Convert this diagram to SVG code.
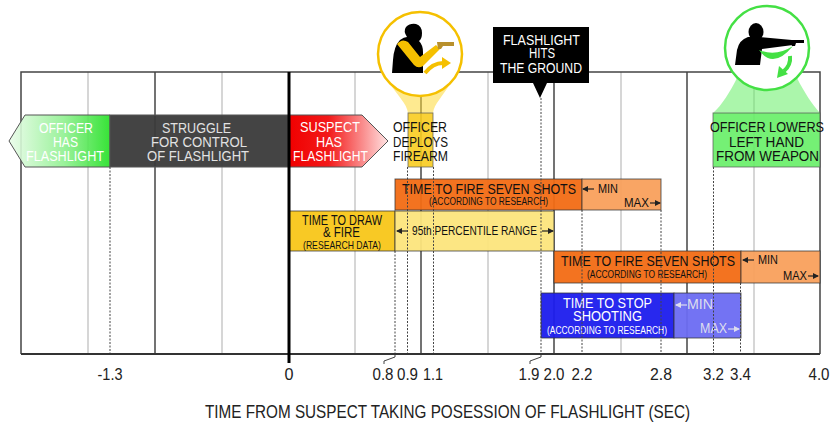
<svg xmlns="http://www.w3.org/2000/svg" width="832" height="425" viewBox="0 0 832 425">
<defs>
<style>
.t{font-family:"Liberation Sans",Arial,sans-serif;}
.lbl{font-size:15px;text-anchor:middle;}
.sm{font-size:10px;text-anchor:middle;}
.tick{font-size:17px;text-anchor:middle;fill:#222;}
.gl{stroke:#c8c8c8;stroke-width:1.5;}
.gd{stroke:#444;stroke-width:1.5;}
.dash{stroke:#444;stroke-width:1;stroke-dasharray:2 1.5;fill:none;}
.bar{stroke:#333;stroke-opacity:0.75;stroke-width:1;}
.arr{stroke:#222;stroke-width:1.2;}
.arrw{stroke:#dde;stroke-width:1.2;}
</style>
<marker id="ah" markerUnits="userSpaceOnUse" markerWidth="6" markerHeight="6" refX="5" refY="3" orient="auto"><path d="M0,0 L6,3 L0,6 Z" fill="#222"/></marker>
<marker id="ahw" markerUnits="userSpaceOnUse" markerWidth="6" markerHeight="6" refX="5" refY="3" orient="auto"><path d="M0,0 L6,3 L0,6 Z" fill="#dde"/></marker>
<linearGradient id="gGreen" x1="0" x2="1"><stop offset="0" stop-color="#eafcea"/><stop offset="0.55" stop-color="#8ef08e"/><stop offset="1" stop-color="#22e022"/></linearGradient>
<linearGradient id="gRed" x1="0" x2="1"><stop offset="0" stop-color="#f00000"/><stop offset="0.4" stop-color="#f31a1a"/><stop offset="1" stop-color="#ffe2e2"/></linearGradient>
</defs>
<rect width="832" height="425" fill="#fff"/>

<g id="grid">
<line class="gl" x1="88" y1="72" x2="88" y2="354"/>
<line class="gl" x1="222" y1="72" x2="222" y2="354"/>
<line class="gl" x1="355" y1="72" x2="355" y2="354"/>
<line class="gl" x1="488" y1="72" x2="488" y2="354"/>
<line class="gl" x1="621" y1="72" x2="621" y2="354"/>
<line class="gl" x1="754" y1="72" x2="754" y2="354"/>
<line class="gd" x1="155" y1="72" x2="155" y2="354"/>
<line class="gd" x1="421" y1="72" x2="421" y2="354"/>
<line class="gd" x1="554" y1="72" x2="554" y2="354"/>
<line class="gd" x1="687" y1="72" x2="687" y2="354"/>
<path d="M21,354 L21,72 L820,72 L820,354" fill="none" stroke="#444" stroke-width="1.5"/>
</g>

<g id="funnels">
<path d="M390,84 C398,96 407,104 408,113 L433,113 C434,104 443,96 450,84 Z" fill="#fdd835" fill-opacity="0.55"/>
<path d="M737,78 C730,92 722,105 713,113 L820,113 C812,104 804,92 797,78 Z" fill="#66ee66" fill-opacity="0.55"/>
</g>

<g id="officer-has-flashlight">
<path d="M9,141 L25,115 L110,115 L110,167 L25,167 Z" fill="url(#gGreen)" fill-opacity="0.9" stroke="#555" stroke-width="1"/>
<g class="t lbl" fill="#fff">
<text x="66" y="133" textLength="54" lengthAdjust="spacingAndGlyphs">OFFICER</text>
<text x="65.5" y="147" textLength="25" lengthAdjust="spacingAndGlyphs">HAS</text>
<text x="65" y="161" textLength="78" lengthAdjust="spacingAndGlyphs">FLASHLIGHT</text>
</g>
</g>

<g id="struggle">
<rect x="110" y="115" width="179" height="52" fill="#3a3a3a" fill-opacity="0.95" stroke="#555" stroke-width="1"/>
<g class="t lbl" fill="#e2e2e2">
<text x="196.5" y="133" textLength="69" lengthAdjust="spacingAndGlyphs">STRUGGLE</text>
<text x="199" y="147" textLength="96" lengthAdjust="spacingAndGlyphs">FOR CONTROL</text>
<text x="198" y="161" textLength="102" lengthAdjust="spacingAndGlyphs">OF FLASHLIGHT</text>
</g>
</g>

<g id="suspect-has-flashlight">
<path d="M289,115 L362,115 L388,141 L362,167 L289,167 Z" fill="url(#gRed)" stroke="#555" stroke-width="1"/>
<g class="t lbl" fill="#fff">
<text x="330" y="132" textLength="60" lengthAdjust="spacingAndGlyphs">SUSPECT</text>
<text x="329" y="147" textLength="26" lengthAdjust="spacingAndGlyphs">HAS</text>
<text x="330.5" y="161" textLength="75" lengthAdjust="spacingAndGlyphs">FLASHLIGHT</text>
</g>
</g>

<g id="officer-deploys-firearm">
<rect x="408" y="113" width="25" height="54" fill="#f8cc20" fill-opacity="0.9" stroke="#555" stroke-opacity="0.7" stroke-width="1"/>
<circle cx="420" cy="54" r="42" fill="#fff" stroke="#f5c000" stroke-width="2.5"/>
<path d="M392,73 L393,60 Q394,46 400,40 Q404,37 407,37 Q403,31 406,27 Q410,23 416,24 Q422,26 422,33 Q422,39 419,41 Q423,45 423,52 L423,73 Z" fill="#000"/>
<path d="M397,44 Q402,38 408,42 L420,57 L436,45 L440,49 L423,66 Q418,69 414,65 Z" fill="#f5c000"/>
<path d="M437,42 L454,42 L454,46 L443,46 L441,49 L438,49 Z" fill="#b8902c"/>
<path d="M425,73 Q433,63 443,63" fill="none" stroke="#f5c000" stroke-width="4"/>
<path d="M442,57 L451,63 L442,69 Z" fill="#f5c000"/>
<g class="t lbl" fill="#111">
<text x="420" y="132" textLength="54" lengthAdjust="spacingAndGlyphs">OFFICER</text>
<text x="420.5" y="147" textLength="55" lengthAdjust="spacingAndGlyphs">DEPLOYS</text>
<text x="420.5" y="161" textLength="55" lengthAdjust="spacingAndGlyphs">FIREARM</text>
</g>
</g>

<g id="flashlight-hits-ground">
<path d="M493,27 L589,27 L589,83 L547,83 L540,98 L533,83 L493,83 Z" fill="#000"/>
<g class="t" font-size="14" text-anchor="middle" fill="#fff">
<text x="541.5" y="45" textLength="77" lengthAdjust="spacingAndGlyphs">FLASHLIGHT</text>
<text x="542" y="58" textLength="26" lengthAdjust="spacingAndGlyphs">HITS</text>
<text x="541" y="73" textLength="82" lengthAdjust="spacingAndGlyphs">THE GROUND</text>
</g>
</g>

<g id="officer-lowers-hand">
<rect x="713" y="113" width="107" height="54" fill="#66ee66" fill-opacity="0.9" stroke="#555" stroke-opacity="0.7" stroke-width="1"/>
<circle cx="767" cy="48" r="42" fill="#fff" stroke="#44e044" stroke-width="2.5"/>
<ellipse cx="756" cy="32" rx="7.5" ry="9" fill="#000"/>
<path d="M735,65 L737,50 Q739,40 748,37 L760,37 L792,40 L793,45 L762,49 L760,65 Z" fill="#000"/>
<path d="M790,40 L804,40 L804,43 L796,43 L795,46 L792,46 Z" fill="#000"/>
<path d="M759,50 Q773,70 793,46 Q776,57 759,50 Z" fill="#44e044"/>
<path d="M790,56 Q791,65 784,71" fill="none" stroke="#44e044" stroke-width="4"/>
<path d="M779,66 L788,74 L777,78 Z" fill="#44e044"/>
<g class="t lbl" fill="#111">
<text x="767" y="132" textLength="114" lengthAdjust="spacingAndGlyphs">OFFICER LOWERS</text>
<text x="766.5" y="147" textLength="75" lengthAdjust="spacingAndGlyphs">LEFT HAND</text>
<text x="767.5" y="161" textLength="103" lengthAdjust="spacingAndGlyphs">FROM WEAPON</text>
</g>
</g>

<g id="fire-seven-1">
<rect class="bar" x="395" y="179" width="187" height="31" fill="#f26c14" fill-opacity="0.95"/>
<rect class="bar" x="582" y="179" width="79" height="31" fill="#f9a05c" fill-opacity="0.95"/>
<g class="t" fill="#111">
<text class="lbl" x="489" y="194" textLength="174" lengthAdjust="spacingAndGlyphs">TIME TO FIRE SEVEN SHOTS</text>
<text class="sm" x="488.5" y="205" textLength="119" lengthAdjust="spacingAndGlyphs">(ACCORDING TO RESEARCH)</text>
<text x="598" y="193" font-size="13" textLength="20" lengthAdjust="spacingAndGlyphs">MIN</text>
<text x="624" y="207" font-size="13" textLength="25" lengthAdjust="spacingAndGlyphs">MAX</text>
</g>
<line class="arr" x1="594" y1="189" x2="583" y2="189" marker-end="url(#ah)"/>
<line class="arr" x1="650" y1="203" x2="660" y2="203" marker-end="url(#ah)"/>
</g>

<g id="draw-and-fire">
<rect class="bar" x="289" y="211" width="106" height="40" fill="#f8c619" fill-opacity="0.95"/>
<rect class="bar" x="395" y="211" width="159" height="40" fill="#fce57c" fill-opacity="0.95"/>
<g class="t" fill="#111">
<text class="lbl" x="342" y="225" textLength="80" lengthAdjust="spacingAndGlyphs">TIME TO DRAW</text>
<text class="lbl" x="341.5" y="237" textLength="37" lengthAdjust="spacingAndGlyphs">&amp; FIRE</text>
<text x="342" y="249" font-size="11" text-anchor="middle" textLength="78" lengthAdjust="spacingAndGlyphs">(RESEARCH DATA)</text>
<text x="474.5" y="235" font-size="13" text-anchor="middle" textLength="125" lengthAdjust="spacingAndGlyphs">95th PERCENTILE RANGE</text>
</g>
<line class="arr" x1="408" y1="231" x2="397" y2="231" marker-end="url(#ah)"/>
<line class="arr" x1="542" y1="231" x2="553" y2="231" marker-end="url(#ah)"/>
</g>

<g id="fire-seven-2">
<rect class="bar" x="554" y="251" width="187" height="32" fill="#f26c14" fill-opacity="0.95"/>
<rect class="bar" x="741" y="251" width="79" height="32" fill="#f9a05c" fill-opacity="0.95"/>
<g class="t" fill="#111">
<text class="lbl" x="648" y="266" textLength="174" lengthAdjust="spacingAndGlyphs">TIME TO FIRE SEVEN SHOTS</text>
<text class="sm" x="647" y="278" textLength="120" lengthAdjust="spacingAndGlyphs">(ACCORDING TO RESEARCH)</text>
<text x="758" y="264" font-size="13" textLength="20" lengthAdjust="spacingAndGlyphs">MIN</text>
<text x="783" y="280" font-size="13" textLength="24" lengthAdjust="spacingAndGlyphs">MAX</text>
</g>
<line class="arr" x1="754" y1="260" x2="743" y2="260" marker-end="url(#ah)"/>
<line class="arr" x1="808" y1="276" x2="818" y2="276" marker-end="url(#ah)"/>
</g>

<g id="stop-shooting">
<rect class="bar" x="541" y="293" width="133" height="45" fill="#1c1ced" fill-opacity="0.95"/>
<rect class="bar" x="674" y="293" width="67" height="45" fill="#6b6bf2" fill-opacity="0.95"/>
<g class="t" fill="#fff">
<text class="lbl" x="607.5" y="308" textLength="89" lengthAdjust="spacingAndGlyphs">TIME TO STOP</text>
<text class="lbl" x="607.5" y="321" textLength="69" lengthAdjust="spacingAndGlyphs">SHOOTING</text>
<text class="sm" x="607" y="334" textLength="120" lengthAdjust="spacingAndGlyphs">(ACCORDING TO RESEARCH)</text>
</g>
<g class="t" fill="#dde">
<text x="687" y="309" font-size="14" textLength="26" lengthAdjust="spacingAndGlyphs">MIN</text>
<text x="700" y="333" font-size="14" textLength="27" lengthAdjust="spacingAndGlyphs">MAX</text>
</g>
<line class="arrw" x1="687" y1="305" x2="676" y2="305" marker-end="url(#ahw)"/>
<line class="arrw" x1="728" y1="329" x2="739" y2="329" marker-end="url(#ahw)"/>
</g>

<g id="connectors">
<line class="dash" x1="110" y1="167" x2="110" y2="354"/>
<line class="dash" x1="395" y1="251" x2="395" y2="354"/>
<line class="dash" x1="407.5" y1="167" x2="407.5" y2="354"/>
<line class="dash" x1="433.5" y1="167" x2="433.5" y2="354"/>
<line class="dash" x1="541" y1="98" x2="541" y2="354"/>
<line class="dash" x1="582" y1="210" x2="582" y2="354"/>
<line class="dash" x1="661" y1="210" x2="661" y2="354"/>
<line class="dash" x1="713.5" y1="167" x2="713.5" y2="354"/>
<line class="dash" x1="740.5" y1="283" x2="740.5" y2="354"/>
<polyline points="395,354 395,357 384,361 384,364" fill="none" stroke="#444" stroke-width="1"/>
<polyline points="541,354 541,357 530,361 530,364" fill="none" stroke="#444" stroke-width="1"/>
</g>

<g id="axis">
<line x1="21" y1="354" x2="820" y2="354" stroke="#333" stroke-width="2"/>
<line x1="289" y1="72" x2="289" y2="363" stroke="#000" stroke-width="3"/>
<g class="t tick">
<text x="110" y="380" textLength="25" lengthAdjust="spacingAndGlyphs">-1.3</text>
<text x="289" y="380" textLength="9" lengthAdjust="spacingAndGlyphs">0</text>
<text x="383" y="380" textLength="21" lengthAdjust="spacingAndGlyphs">0.8</text>
<text x="407.5" y="380" textLength="21" lengthAdjust="spacingAndGlyphs">0.9</text>
<text x="433" y="380" textLength="20" lengthAdjust="spacingAndGlyphs">1.1</text>
<text x="529" y="380" textLength="21" lengthAdjust="spacingAndGlyphs">1.9</text>
<text x="554" y="380" textLength="21" lengthAdjust="spacingAndGlyphs">2.0</text>
<text x="582" y="380" textLength="21" lengthAdjust="spacingAndGlyphs">2.2</text>
<text x="661" y="380" textLength="22" lengthAdjust="spacingAndGlyphs">2.8</text>
<text x="713.5" y="380" textLength="21" lengthAdjust="spacingAndGlyphs">3.2</text>
<text x="740.5" y="380" textLength="21" lengthAdjust="spacingAndGlyphs">3.4</text>
<text x="819" y="380" textLength="21" lengthAdjust="spacingAndGlyphs">4.0</text>
</g>
<text class="t" x="447.5" y="418" font-size="18" text-anchor="middle" fill="#222" textLength="485" lengthAdjust="spacingAndGlyphs">TIME FROM SUSPECT TAKING POSESSION OF FLASHLIGHT (SEC)</text>
</g>
</svg>
